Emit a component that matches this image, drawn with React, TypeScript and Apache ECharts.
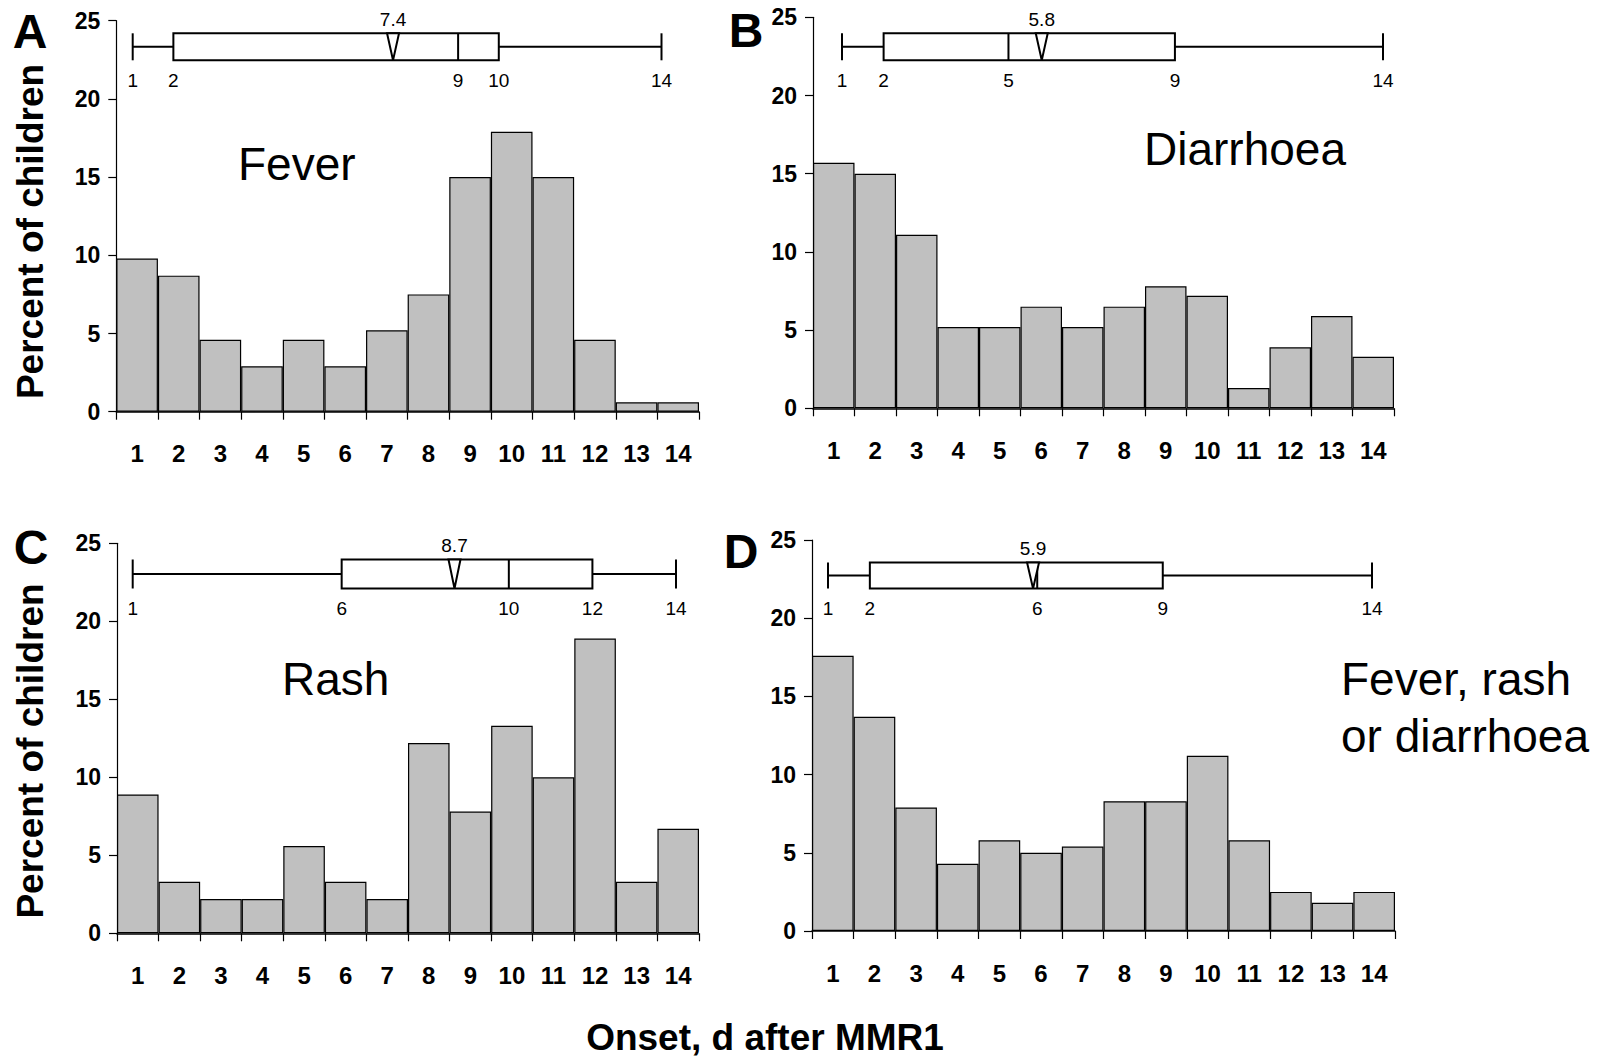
import React, { useEffect, useRef } from "react";
import * as echarts from "echarts";

// ---------- data ----------
const days = ["1", "2", "3", "4", "5", "6", "7", "8", "9", "10", "11", "12", "13", "14"];

const feverPct = [9.8, 8.7, 4.6, 2.9, 4.6, 2.9, 5.2, 7.5, 15.0, 17.9, 15.0, 4.6, 0.6, 0.6];
const diarrhoeaPct = [15.7, 15.0, 11.1, 5.2, 5.2, 6.5, 5.2, 6.5, 7.8, 7.2, 1.3, 3.9, 5.9, 3.3];
const rashPct = [8.9, 3.3, 2.2, 2.2, 5.6, 3.3, 2.2, 12.2, 7.8, 13.3, 10.0, 18.9, 3.3, 6.7];
const anyPct = [17.6, 13.7, 7.9, 4.3, 5.8, 5.0, 5.4, 8.3, 8.3, 11.2, 5.8, 2.5, 1.8, 2.5];

// five-number summaries [min, q1, median, q3, max] and means (days)
const feverBox = [1, 2, 9, 10, 14];
const diarrhoeaBox = [1, 2, 5, 9, 14];
const rashBox = [1, 6, 10, 12, 14];
const anyBox = [1, 2, 6, 9, 14];
const feverMean = 7.4;
const diarrhoeaMean = 5.8;
const rashMean = 8.7;
const anyMean = 5.9;

const yMin = 0;
const yMax = 25;
const yStep = 5;

const panelLetters = ["A", "B", "C", "D"];
const panelTitles = ["Fever", "Diarrhoea", "Rash", "Fever, rash\nor diarrhoea"];
const yAxisTitle = "Percent of children";
const xAxisTitle = "Onset, d after MMR1";

// ---------- layout ----------
const W = 1614;
const H = 1057;
const FONT = "'Liberation Sans', Arial, Helvetica, sans-serif";

const barGrids = [
  { left: 116.3, top: 20.7, width: 582.7, height: 391 },
  { left: 813, top: 17.3, width: 581, height: 391 },
  { left: 117, top: 543.3, width: 582, height: 390 },
  { left: 812, top: 540, width: 583, height: 391 },
];
const boxGrids = [
  { left: 132.7, top: 33.3, width: 528.8, height: 27 },
  { left: 842, top: 33.3, width: 541, height: 27 },
  { left: 132.7, top: 559.5, width: 543.3, height: 29 },
  { left: 828, top: 562.5, width: 544, height: 26 },
];
const letterPos = [
  [30, 31],
  [746, 30],
  [31, 547],
  [741, 551],
];
const titlePos = [
  [238, 163.5],
  [1144, 148.5],
  [282, 678.5],
  [1341, 678.5],
];
const titleLineGap = 57;

export default function App() {
  const ref = useRef<HTMLDivElement>(null);

  useEffect(() => {
    if (!ref.current) return;
    const chart = echarts.init(ref.current, null, { renderer: "svg", width: W, height: H });

    const pcts = [feverPct, diarrhoeaPct, rashPct, anyPct];
    const boxes = [feverBox, diarrhoeaBox, rashBox, anyBox];
    const means = [feverMean, diarrhoeaMean, rashMean, anyMean];

    const grids: any[] = [];
    const xAxes: any[] = [];
    const yAxes: any[] = [];
    const series: any[] = [];

    barGrids.forEach((g, i) => {
      grids.push({ ...g, containLabel: false });
      xAxes.push({
        type: "category",
        gridIndex: i,
        data: days,
        boundaryGap: true,
        axisLine: { show: true, lineStyle: { color: "#000", width: 1.5 } },
        axisTick: { show: true, length: 8, interval: 0, lineStyle: { color: "#000", width: 1.2 } },
        axisLabel: {
          interval: 0,
          margin: 30,
          color: "#000",
          fontFamily: FONT,
          fontWeight: "bold",
          fontSize: 24,
        },
        splitLine: { show: false },
      });
      yAxes.push({
        type: "value",
        gridIndex: i,
        min: yMin,
        max: yMax,
        interval: yStep,
        axisLine: { show: true, lineStyle: { color: "#000", width: 1.2 } },
        axisTick: { show: true, length: 8, lineStyle: { color: "#000", width: 1.2 } },
        axisLabel: {
          margin: 16,
          color: "#000",
          fontFamily: FONT,
          fontWeight: "bold",
          fontSize: 23,
        },
        splitLine: { show: false },
      });
      series.push({
        type: "bar",
        xAxisIndex: i,
        yAxisIndex: i,
        data: pcts[i],
        barCategoryGap: "0%",
        itemStyle: { color: "#c0c0c0", borderColor: "#000", borderWidth: 1.2 },
        silent: true,
      });
    });

    boxGrids.forEach((g, j) => {
      const idx = 4 + j;
      grids.push({ ...g, containLabel: false });
      xAxes.push({ type: "value", gridIndex: idx, min: 1, max: 14, show: false });
      yAxes.push({ type: "value", gridIndex: idx, min: 0, max: 1, show: false });
      const b = boxes[j];
      series.push({
        type: "custom",
        xAxisIndex: idx,
        yAxisIndex: idx,
        silent: true,
        data: [[b[0], b[1], b[2], b[3], b[4], means[j]]],
        renderItem: (params: any, api: any) => {
          const v = [0, 1, 2, 3, 4, 5].map((k) => api.value(k) as number);
          const x = (val: number) => api.coord([val, 0.5])[0];
          const yc = api.coord([v[0], 0.5])[1];
          const h = api.size([0, 1])[1];
          const top = yc - h / 2;
          const bot = yc + h / 2;
          const ls = { stroke: "#000", lineWidth: 2, fill: "none" };
          const children: any[] = [
            { type: "line", shape: { x1: x(v[0]), y1: yc, x2: x(v[1]), y2: yc }, style: ls },
            { type: "line", shape: { x1: x(v[3]), y1: yc, x2: x(v[4]), y2: yc }, style: ls },
            { type: "line", shape: { x1: x(v[0]), y1: top, x2: x(v[0]), y2: bot }, style: ls },
            { type: "line", shape: { x1: x(v[4]), y1: top, x2: x(v[4]), y2: bot }, style: ls },
            {
              type: "rect",
              shape: { x: x(v[1]), y: top, width: x(v[3]) - x(v[1]), height: h },
              style: { stroke: "#000", lineWidth: 2, fill: "#fff" },
            },
            { type: "line", shape: { x1: x(v[2]), y1: top, x2: x(v[2]), y2: bot }, style: ls },
            {
              type: "polygon",
              shape: {
                points: [
                  [x(v[5]) - 6, top],
                  [x(v[5]) + 6, top],
                  [x(v[5]), bot],
                ],
              },
              style: { stroke: "#000", lineWidth: 2, fill: "#fff" },
            },
            {
              type: "text",
              x: x(v[5]),
              y: top - 14,
              style: {
                text: String(v[5]),
                fill: "#000",
                font: `19px ${FONT}`,
                textAlign: "center",
                textVerticalAlign: "middle",
              },
            },
          ];
          for (let k = 0; k < 5; k++) {
            children.push({
              type: "text",
              x: x(v[k]),
              y: bot + 20,
              style: {
                text: String(v[k]),
                fill: "#000",
                font: `19px ${FONT}`,
                textAlign: "center",
                textVerticalAlign: "middle",
              },
            });
          }
          return { type: "group", children };
        },
      });
    });

    const graphics: any[] = [];
    panelLetters.forEach((L, i) => {
      graphics.push({
        type: "text",
        x: letterPos[i][0],
        y: letterPos[i][1],
        style: {
          text: L,
          fill: "#000",
          font: `bold 48px ${FONT}`,
          textAlign: "center",
          textVerticalAlign: "middle",
        },
      });
    });
    panelTitles.forEach((t, i) => {
      t.split("\n").forEach((line, k) => {
        graphics.push({
          type: "text",
          x: titlePos[i][0],
          y: titlePos[i][1] + k * titleLineGap,
          style: {
            text: line,
            fill: "#000",
            font: `46px ${FONT}`,
            textAlign: "left",
            textVerticalAlign: "middle",
          },
        });
      });
    });
    [231.5, 751].forEach((cy) => {
      graphics.push({
        type: "text",
        x: 30,
        y: cy,
        rotation: Math.PI / 2,
        style: {
          text: yAxisTitle,
          fill: "#000",
          font: `bold 37px ${FONT}`,
          textAlign: "center",
          textVerticalAlign: "middle",
        },
      });
    });
    graphics.push({
      type: "text",
      x: 765,
      y: 1037,
      style: {
        text: xAxisTitle,
        fill: "#000",
        font: `bold 37px ${FONT}`,
        textAlign: "center",
        textVerticalAlign: "middle",
      },
    });

    chart.setOption({
      animation: false,
      backgroundColor: "#fff",
      grid: grids,
      xAxis: xAxes,
      yAxis: yAxes,
      series,
      graphic: graphics,
    });

    return () => chart.dispose();
  }, []);

  return (
    <div
      ref={ref}
      style={{ position: "fixed", left: 0, top: 0, width: W, height: H, background: "#fff" }}
    />
  );
}
